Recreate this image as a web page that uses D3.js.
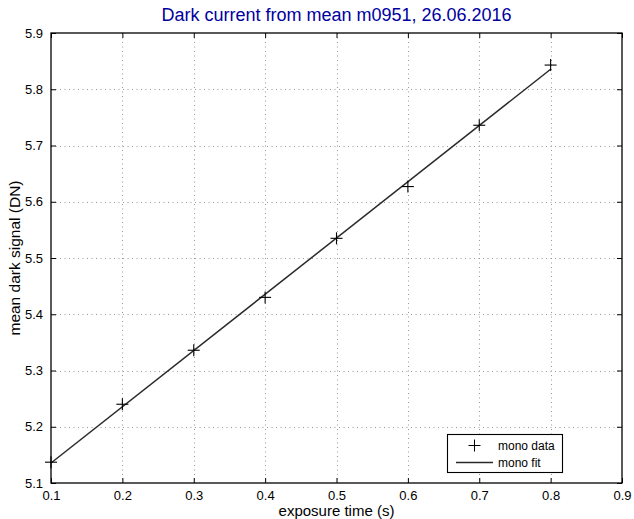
<!DOCTYPE html>
<html>
<head>
<meta charset="utf-8">
<script src="https://cdn.jsdelivr.net/npm/d3@7"></script>
<style>
  html, body { margin: 0; padding: 0; background: #fff; }
  text { font-family: "Liberation Sans", Arial, Helvetica, sans-serif; }
</style>
</head>
<body>
<svg id="chart" width="634" height="519"></svg>
<script>
const titleText = "Dark current from mean m0951, 26.06.2016";
const xLabel = "exposure time (s)";
const yLabel = "mean dark signal (DN)";
const xTicks = [0.1, 0.2, 0.3, 0.4, 0.5, 0.6, 0.7, 0.8, 0.9];
const yTicks = [5.1, 5.2, 5.3, 5.4, 5.5, 5.6, 5.7, 5.8, 5.9];
const dataX = [0.1, 0.2, 0.3, 0.4, 0.5, 0.6, 0.7, 0.8];
const dataY = [5.137, 5.240, 5.336, 5.430, 5.535, 5.627, 5.736, 5.843];
const fitX = [0.1, 0.8];
const fitY = [5.1355, 5.8355];
const legendLabels = ["mono data", "mono fit"];

const svg = d3.select("#chart");
const m = {left: 51, right: 12, top: 33, bottom: 36};
const W = 634, H = 519;
const x = d3.scaleLinear().domain([0.1, 0.9]).range([m.left, W - m.right]);
const y = d3.scaleLinear().domain([5.1, 5.9]).range([H - m.bottom, m.top]);
const x0 = x.range()[0], x1 = x.range()[1], y0 = y.range()[0], y1 = y.range()[1];

// grid
const grid = svg.append("g").attr("stroke", "#999").attr("stroke-width", 1).attr("stroke-dasharray", "1,3.5");
grid.selectAll(".gx").data(xTicks.slice(1, -1)).enter().append("line")
  .attr("x1", d => Math.round(x(d)) + 0.5).attr("x2", d => Math.round(x(d)) + 0.5)
  .attr("y1", y1).attr("y2", y0);
grid.selectAll(".gy").data(yTicks.slice(1, -1)).enter().append("line")
  .attr("y1", d => Math.round(y(d)) + 0.5).attr("y2", d => Math.round(y(d)) + 0.5)
  .attr("x1", x0).attr("x2", x1);

// axes with inner ticks
const fmt = d3.format(".1f");
const axB = svg.append("g").attr("transform", `translate(0,${y0})`)
  .call(d3.axisBottom(x).tickValues(xTicks).tickFormat(fmt).tickSizeInner(-5).tickSizeOuter(0).tickPadding(8));
const axT = svg.append("g").attr("transform", `translate(0,${y1})`)
  .call(d3.axisTop(x).tickValues(xTicks).tickFormat("").tickSizeInner(-5).tickSizeOuter(0));
const axL = svg.append("g").attr("transform", `translate(${x0},0)`)
  .call(d3.axisLeft(y).tickValues(yTicks).tickFormat(fmt).tickSizeInner(-5).tickSizeOuter(0).tickPadding(8));
const axR = svg.append("g").attr("transform", `translate(${x1},0)`)
  .call(d3.axisRight(y).tickValues(yTicks).tickFormat("").tickSizeInner(-5).tickSizeOuter(0));
[axB, axT, axL, axR].forEach(a => {
  a.select(".domain").remove();
  a.selectAll("line").attr("stroke", "#000");
  a.selectAll("text").attr("fill", "#000").style("font-size", "13px")
    .style("font-family", "'Liberation Sans', Arial, sans-serif");
});
// frame
svg.append("rect").attr("x", x0).attr("y", y1).attr("width", x1 - x0).attr("height", y0 - y1)
  .attr("fill", "none").attr("stroke", "#000").attr("stroke-width", 1.3);

// fit line
const line = d3.line().x(d => x(d[0])).y(d => y(d[1]));
svg.append("path").datum(d3.zip(fitX, fitY)).attr("d", line)
  .attr("fill", "none").attr("stroke", "#2a2a2a").attr("stroke-width", 1.5);

// data markers (+)
const pts = svg.append("g").attr("stroke", "#000").attr("stroke-width", 1.1);
const ms = 6;
d3.zip(dataX, dataY).forEach(([a, b]) => {
  const px = x(a), py = y(b);
  pts.append("line").attr("x1", px - ms).attr("x2", px + ms).attr("y1", py).attr("y2", py);
  pts.append("line").attr("x1", px).attr("x2", px).attr("y1", py - ms).attr("y2", py + ms);
});

// title and labels
svg.append("text").attr("x", (x0 + x1) / 2).attr("y", 21).attr("text-anchor", "middle")
  .attr("fill", "#0000a0").style("font-size", "18px").text(titleText);
svg.append("text").attr("x", (x0 + x1) / 2).attr("y", 516).attr("text-anchor", "middle")
  .attr("fill", "#000").style("font-size", "15px").text(xLabel);
svg.append("text").attr("transform", `translate(20,${(y0 + y1) / 2}) rotate(-90)`)
  .attr("text-anchor", "middle").attr("fill", "#000").style("font-size", "15.5px").text(yLabel);

// legend
const lg = svg.append("g");
lg.append("rect").attr("x", 447.5).attr("y", 434.5).attr("width", 115).attr("height", 38)
  .attr("fill", "#fff").attr("stroke", "#000").attr("stroke-width", 1.1);
lg.append("line").attr("x1", 474.5 - ms).attr("x2", 474.5 + ms).attr("y1", 445.5).attr("y2", 445.5).attr("stroke", "#000");
lg.append("line").attr("x1", 474.5).attr("x2", 474.5).attr("y1", 445.5 - ms).attr("y2", 445.5 + ms).attr("stroke", "#000");
lg.append("line").attr("x1", 456).attr("x2", 493).attr("y1", 462.5).attr("y2", 462.5).attr("stroke", "#2a2a2a").attr("stroke-width", 1.5);
lg.selectAll("text.lt").data(legendLabels).enter().append("text")
  .attr("x", 498).attr("y", (d, i) => 450 + i * 17).attr("fill", "#000")
  .style("font-size", "12px").text(d => d);
</script>
</body>
</html>
